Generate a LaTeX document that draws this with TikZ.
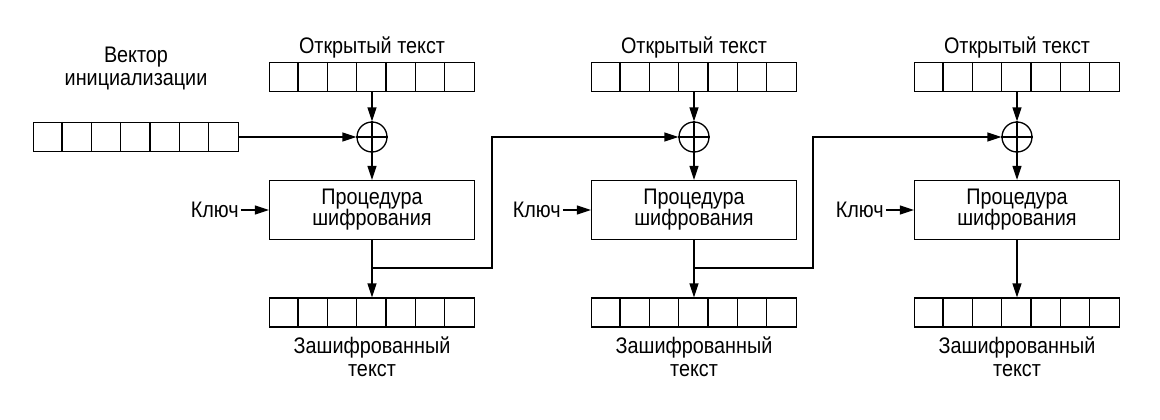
\documentclass[tikz,border=0pt]{standalone}
\usepackage{fontspec}
\setmainfont{Liberation Sans}[FakeStretch=0.88]
\usetikzlibrary{arrows.meta,calc}
\tikzset{
  lw/.style={line width=1.3pt},
  arr/.style={lw,-{Triangle[length=14pt,width=9pt]}},
  regbox/.style={draw,lw,minimum width=205pt,minimum height=29pt,inner sep=0pt},
  encbox/.style={draw,lw,minimum width=205pt,minimum height=59pt,inner sep=0pt,align=center,font=\fontsize{22.5pt}{21pt}\selectfont},
  xorc/.style={draw,lw,circle,minimum size=30pt,inner sep=0pt},
  lbl/.style={inner sep=0pt,align=center,font=\fontsize{22.5pt}{23pt}\selectfont},
}
\newcommand\myreg[3]{%
  \node[regbox] (#1) at (#2,#3) {};
  \foreach \k in {1,...,6}{\draw[lw] ($(#1.north west)+(\k*205/7,0)$) -- ($(#1.south west)+(\k*205/7,0)$);}
}
\begin{document}
\begin{tikzpicture}[x=1pt,y=-1pt]
\useasboundingbox (0,0) rectangle (1160,420);
% IV
\myreg{iv}{136}{137}
\node[lbl] (ivl) at (136,69) {Вектор\\инициализации};
\foreach \i/\cx in {1/372,2/694,3/1017}{
  \myreg{pt\i}{\cx}{77}
  \node[lbl] (ptl\i) at (\cx,47) {Открытый текст};
  \node[xorc] (x\i) at (\cx,137) {};
  \draw[lw] (x\i.north) -- (x\i.south) (x\i.west) -- (x\i.east);
  \node[encbox] (e\i) at (\cx,210) {Процедура\\шифрования};
  \myreg{ct\i}{\cx}{312.5}
  \node[lbl] (ctl\i) at (\cx,357) {Зашифрованный\\текст};
  \node[lbl,anchor=east] (k\i) at ($(e\i.west)+(-30,0)$) {Ключ};
  \draw[arr] (k\i.east)++(2,0) coordinate (ks\i) -- (e\i.west);
  \draw[arr] (pt\i.south) -- (x\i.north) ;
  \draw[arr] (x\i.south) -- (e\i.north);
  \draw[arr] (e\i.south) -- (ct\i.north);
  \coordinate (b\i) at (\cx,268);
}
\draw[arr] (iv.east) -- (x1.west);
\draw[arr] (b1) -- (492,268) |- (x2.west);
\draw[arr] (b2) -- (813,268) |- (x3.west);
\end{tikzpicture}
\end{document}
